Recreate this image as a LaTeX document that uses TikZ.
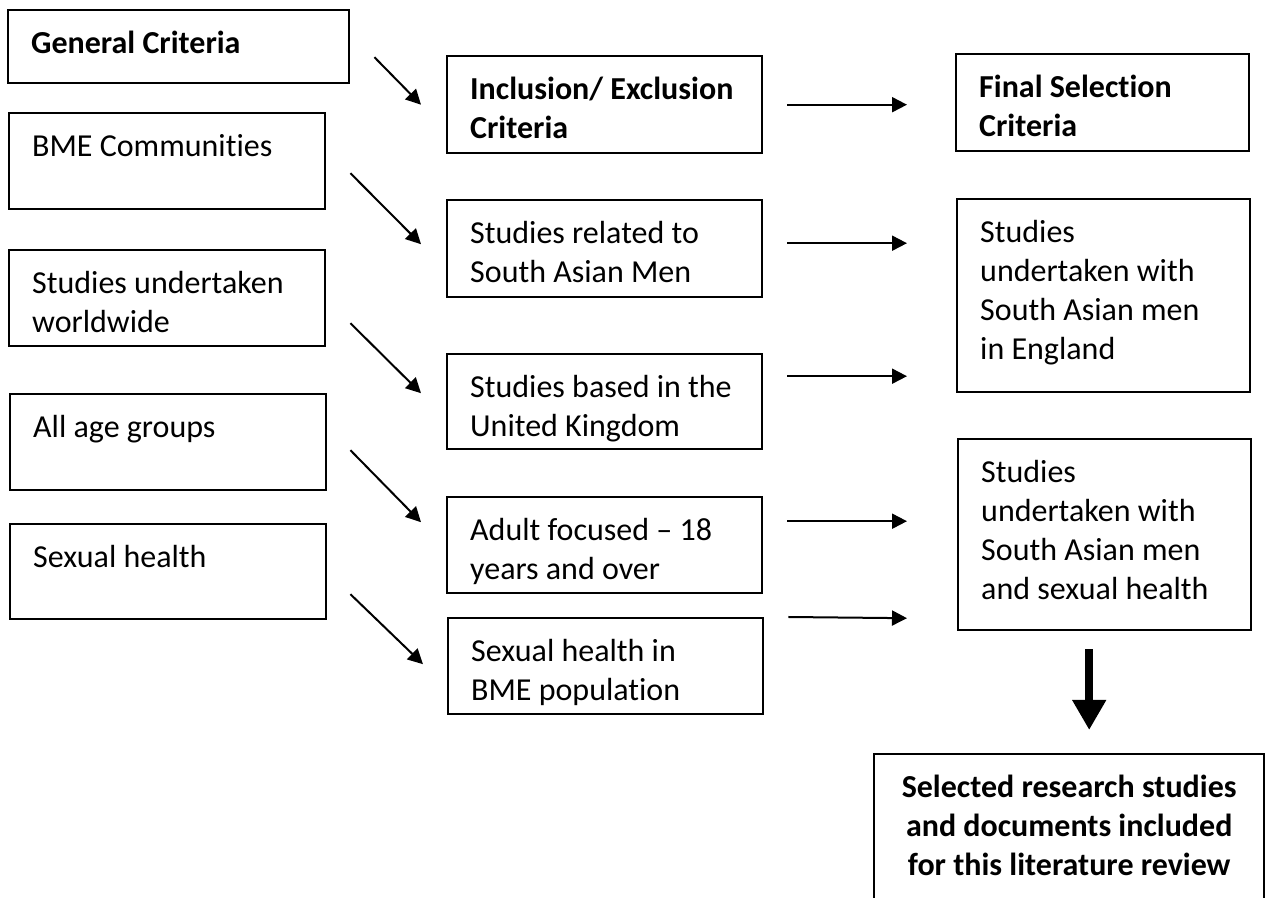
\documentclass[tikz,border=0pt]{standalone}
\usepackage{fontspec}
\setmainfont[Ligatures=NoCommon]{Carlito}
\usepackage{tikz}
\usetikzlibrary{arrows.meta}

\tikzset{
  box/.style={draw, line width=1.2pt, anchor=north west, align=flush left,
    inner xsep=11.5pt, inner ysep=5pt, text height=16.5pt,
    font=\fontsize{16}{19.5}\selectfont},
  head/.style={font=\fontsize{16}{19.5}\selectfont\bfseries},
  crit/.style={box, text width=135pt, text depth=21.5pt},
  filt/.style={box, text width=134.5pt, text depth=21.5pt},
  final/.style={box, text width=123.5pt},
  arr/.style={line width=1pt, -{Triangle[length=7.5pt, width=7.5pt]}},
  bigarr/.style={line width=4pt, -{Triangle[length=15pt, width=16pt]}}
}

\begin{document}
\begin{tikzpicture}[x=0.5pt, y=-0.5pt]
        \useasboundingbox (0, 0) rectangle (1265, 898);
        \clip (0, 0) rectangle (1265, 898);

        % first column
        \node [crit, head, text width=147.5pt, text depth=10pt] (gen) at (7, 9) {General Criteria};
        \node [crit] (bme) at (8, 112) {BME Communities};
        \node [crit] (world) at (8, 249) {Studies undertaken\\worldwide};
        \node [crit] (age) at (9, 393) {All age groups};
        \node [crit, text depth=21pt] (sex) at (9, 523) {Sexual health};

        % second column
        \node [filt, head, text depth=22pt] (inc) at (446, 55) {Inclusion/ Exclusion\\Criteria};
        \node [filt, text depth=22pt] (rel) at (446, 199) {Studies related to\\South Asian Men};
        \node [filt, text depth=21pt] (uk) at (446, 353) {Studies based in the\\United Kingdom};
        \node [filt] (adult) at (446, 496) {Adult focused -- 18\\years and over};
        \node [filt] (pop) at (447, 617) {Sexual health in\\BME population};

        % third column
        \node [final, head, text depth=22pt] (fin) at (955, 53) {Final Selection\\Criteria};
        \node [final, text depth=70pt] (eng) at (956, 198) {Studies\\undertaken with\\South Asian men\\in England};
        \node [final, text depth=69pt] (shl) at (957, 438) {Studies\\undertaken with\\South Asian men\\and sexual health};

        \node [box, head, align=flush center, inner xsep=5pt, text width=185pt, text depth=73.5pt] (sel) at (873, 753) {Selected research studies\\and documents included\\for this literature review};

        \draw [arr] ([xshift=12pt, yshift=-5.25pt]gen.east) -- ([xshift=-12.5pt]inc.west);
        \draw [arr] ([xshift=12pt, yshift=-6pt]bme.east) -- ([xshift=-12.5pt, yshift=2.25pt]rel.west);
        \draw [arr] ([xshift=12pt, yshift=-12.5pt]world.east) -- ([xshift=-12.5pt, yshift=4.25pt]uk.west);
        \draw [arr] ([xshift=11.5pt, yshift=-4pt]age.east) -- ([xshift=-12.5pt, yshift=11.5pt]adult.west);
        \draw [arr] ([xshift=11.5pt, yshift=-11.25pt]sex.east) -- ([xshift=-12pt, yshift=1pt]pop.west);

        \draw [arr] ([xshift=12pt]inc.east) -- ([xshift=-24pt, yshift=-1pt]fin.west);
        \draw [arr] ([xshift=12pt, yshift=2.75pt]rel.east) -- ([xshift=-24.5pt, yshift=26.25pt]eng.west);
        \draw [arr] ([xshift=12pt, yshift=12.75pt]uk.east) -- ([xshift=-24.5pt, yshift=-40.25pt]eng.west);
        \draw [arr] ([xshift=12pt, yshift=12pt]adult.east) -- ([xshift=-25pt, yshift=6.75pt]shl.west);
        \draw [arr] (pop.north east) ++(12pt, 0) -- ([xshift=-25pt, yshift=-41.75pt]shl.west);

        \draw [bigarr] ([xshift=-7.75pt, yshift=-9pt]shl.south) -- ([xshift=10pt, yshift=11.5pt]sel.north);
\end{tikzpicture}
\end{document}
